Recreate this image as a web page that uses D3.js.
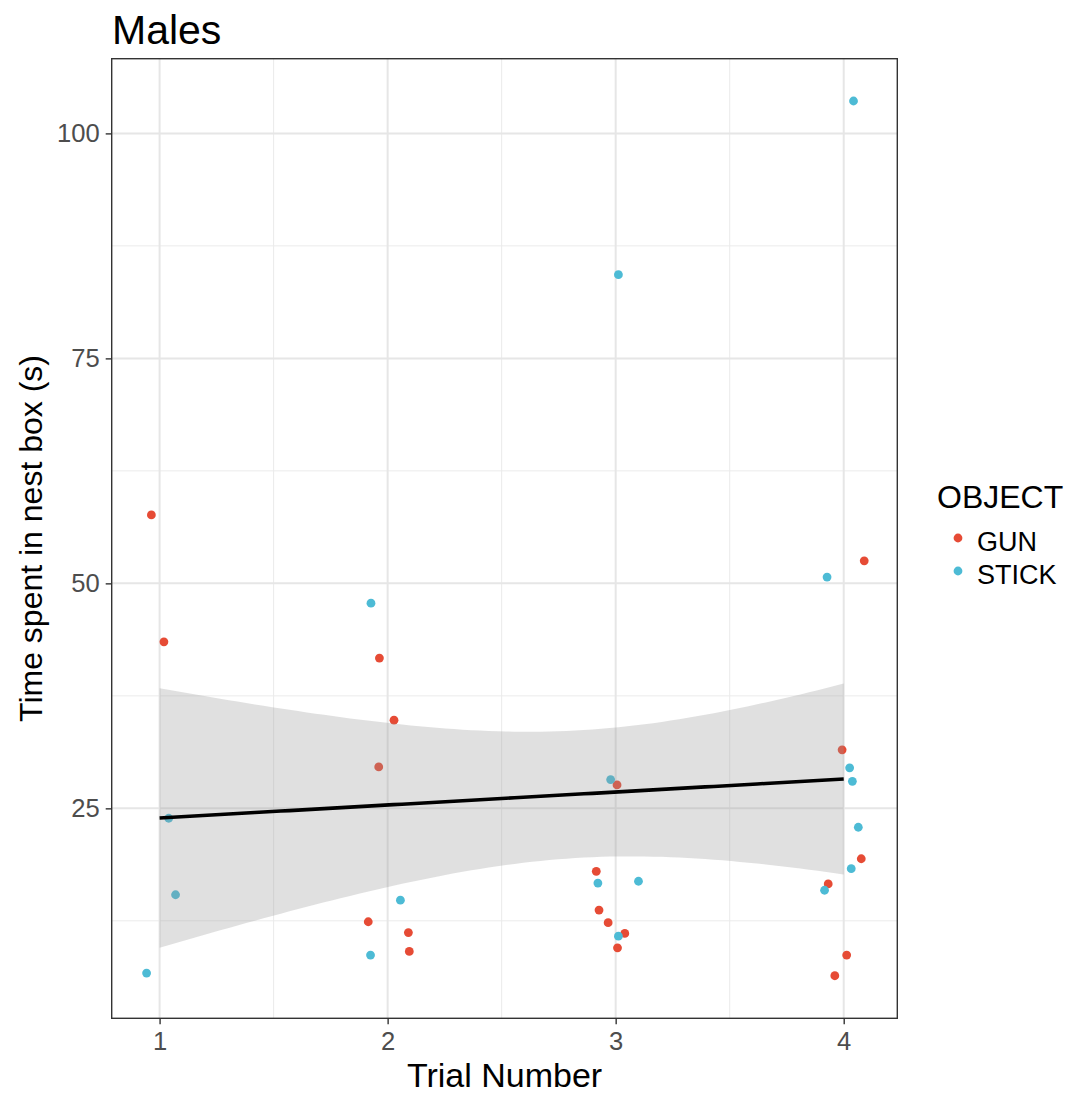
<!DOCTYPE html>
<html>
<head>
<meta charset="utf-8">
<script src="https://cdn.jsdelivr.net/npm/d3@7"></script>
<style>
  html, body { margin: 0; padding: 0; background: #fff; }
  svg { display: block; font-family: "Liberation Sans", Arial, Helvetica, sans-serif; }
</style>
</head>
<body>
<svg id="chart" width="1079" height="1097"></svg>
<script>
// Time in nest box per trial, males. x holds the jittered trial positions.
const gunX = [0.964, 1.019,
              1.964, 2.028, 1.961, 1.915, 2.091, 2.095,
              2.915, 2.927, 2.967, 3.040, 3.006, 3.008,
              4.090, 3.993, 4.077, 3.932, 4.013, 3.961];
const gunY = [57.6, 43.5,
              41.7, 34.8, 29.6, 12.4, 11.2, 9.1,
              18.0, 13.7, 12.3, 11.1, 27.6, 9.5,
              52.5, 31.5, 19.4, 16.6, 8.7, 6.4];
const stickX = [1.040, 1.070, 0.943,
                1.927, 2.056, 1.925,
                2.978, 2.922, 3.100, 3.012, 3.012,
                4.043, 3.927, 4.026, 4.038, 4.064, 4.033, 3.916];
const stickY = [23.9, 15.4, 6.7,
                47.8, 14.8, 8.7,
                28.2, 16.7, 16.9, 10.8, 84.3,
                103.6, 50.7, 29.5, 28.0, 22.9, 18.3, 15.9];

const groups = ["GUN", "STICK"];
const groupColors = ["#E64B35", "#4DBBD5"];
const xTicks = [1, 2, 3, 4];
const yTicks = [25, 50, 75, 100];

const svg = d3.select("#chart");
const panel = { left: 111.7, right: 897.3, top: 58.7, bottom: 1018.3 };

const x = d3.scaleLinear().domain([0.79, 4.235]).range([panel.left, panel.right]);
const y = d3.scaleLinear().domain([1.67, 108.3]).range([panel.bottom, panel.top]);
const color = d3.scaleOrdinal().domain(groups).range(groupColors);

const points = [
  ...gunX.map((v, i) => ({ x: v, y: gunY[i], g: "GUN" })),
  ...stickX.map((v, i) => ({ x: v, y: stickY[i], g: "STICK" }))
];

// Linear fit of time on trial number (unjittered) with a 95% confidence band
const n = points.length;
const tx = points.map(d => Math.round(d.x));
const ty = points.map(d => d.y);
const mx = d3.mean(tx), my = d3.mean(ty);
const sxx = d3.sum(tx, v => (v - mx) ** 2);
const sxy = d3.sum(tx, (v, i) => (v - mx) * (ty[i] - my));
const slope = sxy / sxx, intercept = my - slope * mx;
const sse = d3.sum(tx, (v, i) => (ty[i] - (intercept + slope * v)) ** 2);
const s = Math.sqrt(sse / (n - 2));
const tcrit = 2.028; // t(0.975, df = 36)
const fitGrid = d3.range(0, 80).map(i => 1 + 3 * i / 79);
const fit = fitGrid.map(v => {
  const f = intercept + slope * v;
  const se = s * Math.sqrt(1 / n + (v - mx) ** 2 / sxx);
  return { x: v, f, lo: f - tcrit * se, hi: f + tcrit * se };
});

// Grid lines (theme_bw)
const g = svg.append("g");
const minorY = [12.5, 37.5, 62.5, 87.5];
const minorX = [1.5, 2.5, 3.5];
g.selectAll(".minor-y").data(minorY).join("line")
  .attr("x1", panel.left).attr("x2", panel.right)
  .attr("y1", d => y(d)).attr("y2", d => y(d))
  .attr("stroke", "#EBEBEB").attr("stroke-width", 1);
g.selectAll(".minor-x").data(minorX).join("line")
  .attr("y1", panel.top).attr("y2", panel.bottom)
  .attr("x1", d => x(d)).attr("x2", d => x(d))
  .attr("stroke", "#EBEBEB").attr("stroke-width", 1);
g.selectAll(".major-y").data(yTicks).join("line")
  .attr("x1", panel.left).attr("x2", panel.right)
  .attr("y1", d => y(d)).attr("y2", d => y(d))
  .attr("stroke", "#E6E6E6").attr("stroke-width", 2);
g.selectAll(".major-x").data(xTicks).join("line")
  .attr("y1", panel.top).attr("y2", panel.bottom)
  .attr("x1", d => x(d)).attr("x2", d => x(d))
  .attr("stroke", "#E6E6E6").attr("stroke-width", 2);

// Points
svg.append("g").selectAll("circle").data(points).join("circle")
  .attr("cx", d => x(d.x)).attr("cy", d => y(d.y)).attr("r", 4.4)
  .attr("fill", d => color(d.g));

// Confidence ribbon and fitted line
svg.append("path").datum(fit)
  .attr("d", d3.area().x(d => x(d.x)).y0(d => y(d.lo)).y1(d => y(d.hi)))
  .attr("fill", "#999999").attr("fill-opacity", 0.3);
svg.append("path").datum(fit)
  .attr("d", d3.line().x(d => x(d.x)).y(d => y(d.f)))
  .attr("fill", "none").attr("stroke", "#000").attr("stroke-width", 3.6);

// Panel border
svg.append("rect")
  .attr("x", panel.left).attr("y", panel.top)
  .attr("width", panel.right - panel.left).attr("height", panel.bottom - panel.top)
  .attr("fill", "none").attr("stroke", "#333333").attr("stroke-width", 1.4);

// Axes
const xAxis = svg.append("g").attr("transform", `translate(0,${panel.bottom})`)
  .call(d3.axisBottom(x).tickValues(xTicks).tickSize(6).tickPadding(8).tickFormat(d3.format("d")));
const yAxis = svg.append("g").attr("transform", `translate(${panel.left},0)`)
  .call(d3.axisLeft(y).tickValues(yTicks).tickSize(6).tickPadding(6).tickFormat(d3.format("d")));
[xAxis, yAxis].forEach(a => {
  a.select(".domain").remove();
  a.selectAll(".tick line").attr("stroke", "#333333").attr("stroke-width", 1.4);
  a.selectAll(".tick text").attr("fill", "#4D4D4D").style("font-size", "25.6px");
});

// Titles
svg.append("text").attr("x", 112).attr("y", 44)
  .style("font-size", "41px").attr("fill", "#000").text("Males");
svg.append("text").attr("x", (panel.left + panel.right) / 2).attr("y", 1087)
  .attr("text-anchor", "middle").style("font-size", "34px").attr("fill", "#000")
  .text("Trial Number");
svg.append("text")
  .attr("transform", `translate(42,${(panel.top + panel.bottom) / 2}) rotate(-90)`)
  .attr("text-anchor", "middle").style("font-size", "32px").attr("fill", "#000")
  .text("Time spent in nest box (s)");

// Legend
const legend = svg.append("g");
legend.append("text").attr("x", 937).attr("y", 507.5)
  .style("font-size", "32px").attr("fill", "#000").text("OBJECT");
const items = legend.selectAll(".item").data(groups).join("g")
  .attr("transform", (d, i) => `translate(0,${538 + i * 33})`);
items.append("circle").attr("cx", 958).attr("cy", 0).attr("r", 4.4)
  .attr("fill", d => color(d));
items.append("text").attr("x", 977).attr("y", 12.5)
  .style("font-size", "27px").attr("fill", "#000").text(d => d);
</script>
</body>
</html>
